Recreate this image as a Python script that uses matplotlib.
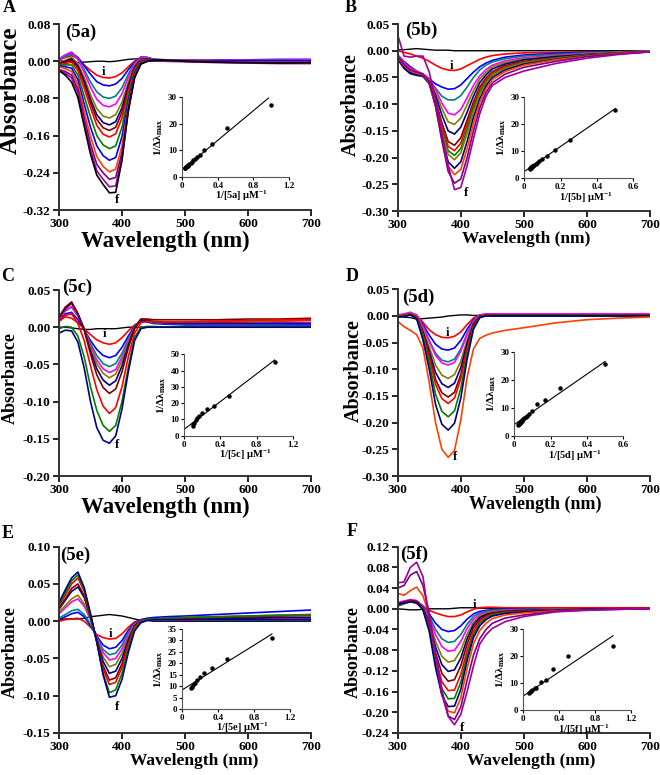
import matplotlib
matplotlib.use("Agg")
import matplotlib.pyplot as plt

plt.rcParams["font.family"] = ["Liberation Serif", "DejaVu Serif"]
plt.rcParams["font.weight"] = "bold"
plt.rcParams["axes.unicode_minus"] = False
plt.rcParams["mathtext.fontset"] = "custom"
plt.rcParams["mathtext.rm"] = "Liberation Serif:bold"
plt.rcParams["mathtext.bf"] = "Liberation Serif:bold"
plt.rcParams["mathtext.it"] = "Liberation Serif:bold:italic"

# wavelength grid (nm) shared by all spectra
wl = [300, 310, 320, 330, 340, 350, 360, 370, 380, 390, 400, 410, 420, 430, 440, 450, 470, 500, 550, 600, 650, 700]

# absorbance values in units of 0.001 (first row = i, last = f)
spec_5a = [
    [3, 8, 12, 6, -8, -20, -30, -35, -36, -33, -25, -12, 0, 8, 8, 4, 2, 2, 2, 2, 2, 3],
    [5, 12, 18, 8, -10, -28, -44, -51, -53, -49, -37, -18, -2, 9, 8, 4, 3, 3, 3, 3, 4, 4],
    [3, 10, 16, 4, -18, -45, -66, -77, -80, -75, -57, -28, -4, 8, 8, 4, 3, 3, 2, 2, 3, 3],
    [5, 14, 20, 5, -24, -56, -82, -95, -98, -92, -70, -35, -6, 8, 7, 3, 2, 2, 2, 2, 2, 3],
    [-3, 2, 8, -5, -35, -72, -102, -118, -122, -115, -88, -45, -10, 5, 5, 3, 2, 1, 0, 0, 0, 0],
    [-5, 0, 5, -10, -42, -82, -115, -132, -137, -130, -100, -52, -13, 4, 5, 3, 2, 1, 0, 0, -1, -1],
    [-5, -2, 2, -14, -48, -90, -125, -143, -149, -142, -110, -58, -15, 3, 4, 2, 1, 0, -1, -2, -2, -2],
    [-8, -5, -2, -20, -58, -100, -138, -157, -163, -156, -122, -65, -18, 2, 4, 2, 1, 0, -1, -1, -2, -2],
    [-8, -8, -8, -30, -75, -120, -160, -180, -188, -182, -142, -75, -22, 0, 3, 2, 1, 0, -1, -1, -2, -2],
    [-10, -12, -15, -40, -92, -142, -182, -203, -213, -207, -162, -86, -26, -2, 2, 2, 1, 0, 0, 1, 1, 1],
    [-12, -16, -22, -50, -108, -162, -205, -226, -238, -232, -182, -96, -30, -4, 1, 1, 0, 0, -1, -2, -2, -2],
    [-18, -22, -30, -60, -122, -178, -222, -240, -254, -250, -196, -103, -33, -5, 0, 1, 0, 0, -2, -3, -3, -3],
    [-20, -26, -36, -68, -132, -190, -236, -254, -270, -268, -206, -108, -35, -6, 0, 1, 0, -1, -3, -4, -5, -5],
    [-20, -30, -45, -78, -140, -200, -245, -265, -283, -282, -213, -106, -35, -6, 0, 2, 2, 0, -2, -3, -4, -3],
]
blank_5a = [0, 1, -1, -3, -2, -1, 0, 0, -1, 0, 2, 4, 5, 5, 4, 3, 2, 1, 0, -1, -1, -1]
colors_5a = ["#ff0000", "#0000ff", "#008080", "#ff00ff", "#808000", "#000080", "#800000",
             "#ff0000", "#008000", "#0000ff", "#ff4000", "#800080", "#a000a0", "#000000"]

spec_5b = [
    [0, -3, -6, -10, -14, -20, -27, -33, -36, -37, -34, -28, -22, -16, -12, -9, -6, -4, -3, -2, -2, -1],
    [-8, -20, -30, -38, -45, -53, -62, -68, -72, -71, -64, -52, -40, -30, -23, -18, -12, -8, -5, -3, -2, -1],
    [-10, -24, -34, -40, -45, -55, -70, -85, -92, -92, -84, -68, -50, -36, -27, -21, -15, -10, -7, -4, -2, -1],
    [-8, -22, -33, -38, -43, -52, -72, -98, -117, -120, -110, -88, -65, -47, -35, -27, -19, -13, -9, -5, -3, -1],
    [-10, -25, -35, -40, -45, -55, -78, -108, -133, -138, -126, -101, -75, -53, -40, -30, -22, -15, -10, -6, -3, -1],
    [-14, -30, -40, -44, -47, -58, -84, -120, -150, -156, -143, -115, -85, -60, -45, -34, -25, -17, -11, -7, -4, -2],
    [-12, -28, -38, -42, -46, -60, -92, -135, -170, -177, -163, -130, -96, -68, -51, -39, -28, -20, -13, -8, -4, -2],
    [-12, -27, -37, -41, -45, -60, -95, -142, -179, -187, -173, -138, -102, -72, -54, -41, -30, -21, -14, -8, -4, -2],
    [-12, -27, -37, -41, -45, -60, -98, -148, -187, -196, -183, -147, -108, -77, -58, -44, -32, -22, -14, -8, -4, -2],
    [-12, -27, -37, -41, -45, -60, -100, -152, -194, -204, -191, -155, -114, -82, -61, -46, -33, -23, -15, -9, -5, -2],
    [-16, -33, -43, -46, -48, -62, -104, -162, -208, -220, -208, -170, -125, -90, -66, -50, -36, -25, -16, -9, -5, -2],
    [-12, -28, -38, -42, -45, -60, -104, -166, -216, -232, -222, -183, -136, -97, -71, -54, -39, -27, -17, -10, -5, -2],
    [-10, -26, -36, -40, -44, -58, -102, -168, -226, -248, -240, -200, -150, -107, -78, -60, -44, -31, -20, -11, -6, -2],
    [30, -10, -12, -10, -10, -40, -92, -154, -215, -260, -256, -215, -165, -118, -85, -65, -50, -38, -24, -14, -7, -2],
]
blank_5b = [2, 2, 3, 4, 3, 2, 1, 1, 1, 0, 0, 0, 0, 0, 0, 0, 0, 0, 0, 0, 0, 0]
colors_5b = ["#ff0000", "#0000ff", "#008080", "#ff00ff", "#808000", "#000080", "#800000",
             "#ff0000", "#008000", "#808000", "#000080", "#ff4000", "#800080", "#a000a0"]

spec_5c = [
    [8, 14, 12, 6, -2, -10, -17, -21, -23, -21, -14, -5, 3, 8, 8, 6, 5, 5, 6, 7, 8, 9],
    [10, 18, 20, 10, -3, -18, -30, -38, -41, -38, -27, -12, 2, 8, 7, 5, 4, 3, 3, 3, 3, 3],
    [12, 22, 27, 15, -2, -22, -38, -49, -53, -49, -35, -16, 1, 9, 8, 6, 5, 4, 4, 4, 4, 5],
    [12, 22, 28, 16, -2, -25, -44, -56, -61, -57, -40, -18, 0, 10, 9, 7, 6, 5, 5, 5, 6, 6],
    [13, 25, 32, 18, -2, -28, -49, -62, -68, -63, -45, -20, 0, 11, 10, 8, 7, 7, 8, 8, 9, 10],
    [13, 25, 33, 18, -3, -32, -56, -71, -78, -72, -52, -24, -1, 10, 9, 7, 6, 5, 5, 5, 5, 5],
    [14, 27, 34, 18, -4, -36, -64, -81, -89, -83, -60, -28, -2, 11, 11, 10, 10, 10, 10, 11, 11, 12],
    [8, 16, 18, 5, -18, -52, -84, -106, -116, -108, -80, -40, -8, 6, 8, 7, 7, 7, 8, 9, 10, 10],
    [-2, 1, 0, -12, -40, -80, -112, -132, -140, -132, -100, -54, -14, 0, 1, 1, 0, 0, 0, 0, 0, 0],
    [-8, -4, -5, -20, -55, -100, -135, -152, -156, -146, -110, -60, -18, -2, 0, 0, 0, 0, 0, 0, 0, 0],
]
blank_5c = [0, 0, -1, -2, -3, -3, -2, -2, -2, -2, -1, 0, 0, 0, 0, 0, 0, 0, 0, 0, 0, 0]
colors_5c = ["#ff0000", "#0000ff", "#008080", "#ff00ff", "#808000", "#000080", "#800000",
             "#ff0000", "#008000", "#000080"]

spec_5d = [
    [0, 2, 4, 1, -12, -26, -35, -40, -41, -38, -30, -16, -4, 2, 3, 3, 3, 3, 3, 3, 3, 3],
    [0, 2, 4, 0, -16, -36, -53, -62, -64, -60, -46, -25, -7, 1, 2, 2, 2, 2, 2, 2, 2, 2],
    [0, 2, 5, 0, -20, -46, -70, -83, -86, -81, -62, -33, -9, 1, 2, 2, 2, 2, 2, 2, 2, 2],
    [2, 4, 7, 2, -20, -48, -74, -88, -92, -87, -66, -35, -10, 2, 4, 4, 4, 4, 4, 4, 4, 4],
    [0, 2, 5, -1, -26, -58, -92, -111, -117, -110, -85, -45, -13, 0, 2, 2, 2, 2, 2, 2, 2, 2],
    [-2, 0, 3, -2, -30, -66, -106, -127, -134, -126, -97, -51, -15, -1, 1, 1, 1, 1, 1, 1, 1, 1],
    [0, 1, 4, -2, -33, -73, -119, -144, -152, -143, -110, -58, -17, -1, 2, 2, 2, 2, 2, 2, 2, 2],
    [0, 1, 4, -2, -35, -78, -128, -155, -164, -154, -118, -62, -19, -2, 1, 1, 1, 1, 1, 1, 1, 1],
    [-2, 0, 3, -4, -40, -88, -147, -179, -189, -178, -136, -72, -22, -3, 1, 1, 1, 1, 1, 1, 1, 1],
    [-2, -1, 2, -5, -45, -100, -166, -203, -214, -201, -154, -81, -25, -3, 0, 0, 0, 0, 0, 0, 0, 0],
    [-10, -20, -27, -35, -60, -125, -200, -250, -265, -252, -195, -115, -62, -42, -36, -32, -27, -22, -13, -7, -4, -2],
]
blank_5d = [0, -2, -3, -6, -5, -4, -3, -2, 0, 1, 2, 2, 1, 1, 1, 0, 0, 0, 0, 0, 0, 0]
colors_5d = ["#ff0000", "#0000ff", "#008080", "#ff00ff", "#808000", "#000080", "#800000",
             "#ff0000", "#008000", "#000080", "#ff4000"]

spec_5e = [
    [0, 2, 3, 4, 0, -8, -18, -22, -24, -23, -17, -8, -1, 2, 3, 3, 3, 3, 3, 4, 4, 5],
    [2, 6, 10, 12, 6, -6, -20, -32, -37, -35, -26, -12, -2, 2, 4, 5, 6, 7, 9, 11, 13, 15],
    [4, 9, 14, 16, 9, -4, -22, -38, -45, -43, -32, -15, -3, 1, 2, 2, 2, 2, 2, 2, 2, 2],
    [10, 18, 26, 30, 20, 2, -22, -42, -52, -50, -37, -18, -4, 1, 2, 2, 2, 2, 3, 3, 4, 4],
    [12, 21, 30, 35, 23, 3, -24, -48, -61, -58, -43, -21, -5, 1, 2, 2, 3, 3, 4, 4, 5, 5],
    [16, 28, 40, 46, 32, 6, -25, -54, -70, -67, -50, -25, -6, 1, 2, 3, 3, 3, 4, 4, 5, 5],
    [18, 30, 44, 50, 34, 6, -27, -60, -79, -76, -57, -29, -7, 0, 2, 3, 4, 4, 5, 6, 7, 8],
    [20, 35, 50, 58, 40, 8, -28, -64, -85, -82, -62, -32, -8, 0, 2, 3, 4, 5, 6, 7, 8, 9],
    [22, 38, 54, 62, 43, 9, -28, -70, -96, -92, -70, -37, -10, -1, 2, 3, 4, 5, 6, 7, 8, 8],
    [25, 42, 58, 66, 45, 10, -28, -72, -102, -100, -78, -42, -13, -2, 1, 2, 2, 2, 2, 2, 2, 2],
]
blank_5e = [2, 3, 3, 3, 4, 6, 7, 8, 9, 8, 7, 5, 3, 1, 1, 0, 0, 0, 0, 0, 0, 0]
colors_5e = ["#ff0000", "#0000ff", "#008080", "#ff00ff", "#808000", "#000080", "#800000",
             "#ff0000", "#008000", "#000080"]

spec_5f = [
    [5, 10, 14, 10, 4, -3, -8, -12, -15, -15, -12, -6, -1, 2, 3, 3, 2, 2, 2, 2, 2, 2],
    [10, 14, 16, 14, 6, -10, -28, -40, -44, -42, -33, -20, -10, -5, -3, -2, -1, -1, 0, 0, 0, 0],
    [10, 14, 16, 14, 5, -14, -40, -58, -65, -63, -50, -30, -15, -8, -5, -3, -2, -1, -1, 0, 0, 0],
    [12, 15, 18, 16, 5, -18, -50, -73, -82, -80, -63, -38, -20, -11, -7, -5, -3, -2, -1, 0, 0, 0],
    [10, 13, 16, 14, 3, -24, -63, -92, -103, -100, -80, -49, -26, -14, -9, -6, -4, -3, -1, -1, 0, 0],
    [10, 13, 16, 14, 2, -28, -74, -108, -121, -118, -95, -58, -31, -17, -11, -8, -5, -3, -2, -1, 0, 0],
    [8, 12, 15, 13, 1, -32, -85, -125, -140, -137, -110, -68, -37, -21, -13, -9, -6, -4, -2, -1, 0, 0],
    [8, 12, 15, 13, 0, -36, -96, -141, -158, -157, -127, -80, -44, -25, -16, -11, -7, -5, -2, -1, 0, 0],
    [6, 10, 13, 12, -1, -40, -105, -154, -174, -173, -142, -90, -50, -29, -18, -12, -8, -6, -3, -1, 0, 0],
    [8, 11, 14, 12, -2, -44, -114, -167, -189, -188, -156, -100, -56, -33, -21, -14, -9, -6, -3, -1, 0, 0],
    [30, 26, 35, 42, 25, -12, -90, -163, -198, -201, -172, -115, -68, -42, -28, -19, -12, -8, -4, -2, -1, 0],
    [40, 45, 65, 72, 45, -8, -90, -165, -207, -214, -190, -138, -90, -58, -40, -28, -18, -12, -5, -2, -1, 0],
    [50, 52, 80, 90, 62, -21, -85, -156, -208, -224, -204, -160, -111, -68, -50, -38, -25, -15, -6, -3, -1, 0],
]
blank_5f = [0, -1, -2, -2, -1, 0, 0, 0, 0, 1, 2, 2, 2, 1, 1, 0, 0, 0, 0, 0, 0, 0]
colors_5f = ["#ff0000", "#0000ff", "#008080", "#ff00ff", "#808000", "#000080", "#800000",
             "#ff0000", "#008000", "#000080", "#ff4000", "#800080", "#a000a0"]

# double-reciprocal insets: 1/[L] vs 1/dLambda, plus the fitted line ends
inv_5a = [1.0, 0.5, 0.333, 0.25, 0.2, 0.167, 0.143, 0.125, 0.111, 0.1, 0.083, 0.071, 0.0625, 0.056, 0.05, 0.045, 0.042, 0.038, 0.036, 0.033]
dl_5a = [27, 18.5, 12.5, 10.3, 8.3, 7.5, 6.8, 6.2, 5.8, 5.4, 5.0, 4.6, 4.3, 4.1, 3.9, 3.7, 3.6, 3.5, 3.4, 3.3]
fit_5a = ([0, 0.97], [2.6, 29.6])

inv_5b = [0.5, 0.25, 0.167, 0.125, 0.1, 0.083, 0.071, 0.0625, 0.056, 0.05, 0.045, 0.042, 0.038, 0.036, 0.033, 0.031]
dl_5b = [25, 14, 10.5, 8.2, 7.2, 6.3, 5.8, 5.4, 5.0, 4.6, 4.4, 4.2, 4.0, 3.9, 3.7, 3.6]
fit_5b = ([0, 0.5], [2.5, 25.6])

inv_5c = [1.0, 0.5, 0.333, 0.25, 0.2, 0.167, 0.143, 0.125, 0.111, 0.1, 0.091]
dl_5c = [45.5, 24.5, 18.5, 16.3, 14, 12, 11, 9.5, 8, 7, 6.2]
fit_5c = ([0, 1.0], [4, 46.5])

inv_5d = [0.5, 0.25, 0.167, 0.125, 0.1, 0.083, 0.071, 0.0625, 0.056, 0.05, 0.045, 0.042, 0.038, 0.036, 0.033, 0.031, 0.029, 0.027, 0.025, 0.02]
dl_5d = [25.5, 17, 12.7, 11.5, 9, 7.8, 7.2, 6.8, 6.4, 6.0, 5.6, 5.4, 5.2, 5.0, 4.8, 4.6, 4.5, 4.3, 4.2, 3.7]
fit_5d = ([0, 0.5], [4, 26.5])

inv_5e = [1.0, 0.5, 0.333, 0.25, 0.2, 0.167, 0.143, 0.125, 0.111, 0.1]
dl_5e = [31.2, 21.7, 18, 15.8, 14, 12.6, 11.3, 10.6, 9.8, 9.2]
fit_5e = ([0, 1.0], [8.2, 32.8])

inv_5f = [1.0, 0.5, 0.333, 0.25, 0.2, 0.143, 0.125, 0.1, 0.083, 0.071, 0.0625]
dl_5f = [23.8, 20, 15, 11.2, 10.2, 8.3, 8.0, 7.4, 7.0, 6.7, 6.4]
fit_5f = ([0, 1.0], [5.2, 27.5])

panels = [
    dict(letter="A", tag="5a", spec=spec_5a, blank=blank_5a, colors=colors_5a,
         ylim=(-0.32, 0.08), ystep=0.08, rect=[0.0894, 0.729, 0.3818, 0.240],
         inset=[0.2758, 0.7716, 0.1621, 0.1032], ixlim=1.2, ixstep=0.4, iylim=30, iystep=10,
         inv=inv_5a, dl=dl_5a, fit=fit_5a, i_pos=(370, -0.023), f_pos=(392, -0.298),
         ylab=(-0.147, 0.645, 18), xlab=(0.42, -0.112, 16.5), let_xy=(9, 8), tag_xy=(65, 24)),
    dict(letter="B", tag="5b", spec=spec_5b, blank=blank_5b, colors=colors_5b,
         ylim=(-0.30, 0.05), ystep=0.05, rect=[0.6026, 0.7277, 0.3823, 0.2413],
         inset=[0.7944, 0.7699, 0.1652, 0.1053], ixlim=0.6, ixstep=0.2, iylim=30, iystep=10,
         inv=inv_5b, dl=dl_5b, fit=fit_5b, i_pos=(385.6, -0.028), f_pos=(409, -0.266),
         ylab=(-0.145, 0.567, 14.5), xlab=(0.51, -0.108, 12.5), let_xy=(351, 8), tag_xy=(405, 22)),
    dict(letter="C", tag="5c", spec=spec_5c, blank=blank_5c, colors=colors_5c,
         ylim=(-0.20, 0.05), ystep=0.05, rect=[0.0894, 0.3858, 0.3818, 0.240],
         inset=[0.2793, 0.4378, 0.1642, 0.105], ixlim=1.2, ixstep=0.4, iylim=50, iystep=10,
         inv=inv_5c, dl=dl_5c, fit=fit_5c, i_pos=(371.4, -0.0095), f_pos=(391.6, -0.158),
         ylab=(-0.159, 0.524, 13), xlab=(0.42, -0.112, 16.5), let_xy=(8, 276), tag_xy=(62, 279)),
    dict(letter="D", tag="5d", spec=spec_5d, blank=blank_5d, colors=colors_5d,
         ylim=(-0.30, 0.05), ystep=0.05, rect=[0.6026, 0.3858, 0.3823, 0.2409],
         inset=[0.7792, 0.4378, 0.1652, 0.1084], ixlim=0.6, ixstep=0.2, iylim=30, iystep=10,
         inv=inv_5d, dl=dl_5d, fit=fit_5d, i_pos=(378.6, -0.031), f_pos=(390.8, -0.264),
         ylab=(-0.134, 0.565, 14.5), xlab=(0.546, -0.108, 13), let_xy=(352, 276), tag_xy=(402, 289)),
    dict(letter="E", tag="5e", spec=spec_5e, blank=blank_5e, colors=colors_5e,
         ylim=(-0.15, 0.10), ystep=0.05, rect=[0.0894, 0.0542, 0.3818, 0.2404],
         inset=[0.2753, 0.0852, 0.1641, 0.1032], ixlim=1.2, ixstep=0.4, iylim=35, iystep=5,
         inv=inv_5e, dl=dl_5e, fit=fit_5e, i_pos=(381, -0.017), f_pos=(391.6, -0.115),
         ylab=(-0.159, 0.437, 13), xlab=(0.536, -0.108, 12.5), let_xy=(8, 533), tag_xy=(60, 547)),
    dict(letter="F", tag="5f", spec=spec_5f, blank=blank_5f, colors=colors_5f,
         ylim=(-0.24, 0.12), ystep=0.04, rect=[0.6026, 0.0542, 0.3823, 0.2404],
         inset=[0.7929, 0.0839, 0.1632, 0.1045], ixlim=1.2, ixstep=0.4, iylim=30, iystep=10,
         inv=inv_5f, dl=dl_5f, fit=fit_5f, i_pos=(421.4, 0.007), f_pos=(401.5, -0.231),
         ylab=(-0.142, 0.433, 13), xlab=(0.528, -0.108, 12.5), let_xy=(352, 531), tag_xy=(400, 546)),
]


def frange(a, b, step):
    n = int(round((b - a) / step))
    return [a + k * step for k in range(n + 1)]


fig = plt.figure(figsize=(6.6, 7.75), dpi=100)

for p in panels:
    ax = fig.add_axes(p["rect"])
    ax.plot(wl, [v / 1000 for v in p["blank"]], color="black", lw=1.0)
    for vals, col in zip(p["spec"], p["colors"]):
        ax.plot(wl, [v / 1000 for v in vals], color=col, lw=1.2)

    ax.set_xlim(300, 700)
    ax.set_ylim(*p["ylim"])
    ax.set_xticks([300, 400, 500, 600, 700])
    ax.set_yticks(frange(p["ylim"][0], p["ylim"][1], p["ystep"]))
    ax.set_yticklabels(["%.2f" % t if abs(t) > 1e-9 else "0.00" for t in ax.get_yticks()])
    for side in ("top", "right"):
        ax.spines[side].set_visible(False)
    for side in ("left", "bottom"):
        ax.spines[side].set_linewidth(1.4)
        ax.spines[side].set_color("#333333")
    ax.tick_params(direction="out", length=4, width=1.2, labelsize=9.5, pad=2)

    yx, yy, ys = p["ylab"]
    ax.set_ylabel("Absorbance", fontsize=ys, fontweight="bold")
    ax.yaxis.set_label_coords(yx, yy)
    xx, xy, xs = p["xlab"]
    ax.set_xlabel("Wavelength (nm)", fontsize=xs, fontweight="bold")
    ax.xaxis.set_label_coords(xx, xy)

    tx, ty = p["tag_xy"]
    fig.text(tx / 660, 1 - ty / 775, "(%s)" % p["tag"], fontsize=13.5,
             fontweight="bold", va="top", ha="left")
    ax.text(*p["i_pos"], "i", fontsize=9, fontweight="bold", ha="center", va="center")
    ax.text(*p["f_pos"], "f", fontsize=9, fontweight="bold", ha="center", va="center")

    lx, ly = p["let_xy"]
    fig.text(lx / 660, 1 - ly / 775, p["letter"], fontsize=13, fontweight="bold",
             ha="center", va="center")

    # inset
    ins = fig.add_axes(p["inset"])
    ins.plot(p["inv"], p["dl"], "o", color="black", ms=2.2)
    ins.plot(p["fit"][0], p["fit"][1], color="black", lw=0.8)
    ins.set_xlim(0, p["ixlim"])
    ins.set_ylim(0, p["iylim"])
    ins.set_xticks(frange(0, p["ixlim"], p["ixstep"]))
    ins.set_yticks(frange(0, p["iylim"], p["iystep"]))
    ins.set_xticklabels(["0" if t == 0 else ("%.1f" % t) for t in ins.get_xticks()])
    ins.set_yticklabels(["%d" % round(t) for t in ins.get_yticks()])
    for side in ("top", "right"):
        ins.spines[side].set_visible(False)
    for side in ("left", "bottom"):
        ins.spines[side].set_linewidth(0.8)
        ins.spines[side].set_color("#555555")
    ins.patch.set_alpha(0)
    ins.tick_params(direction="out", length=2, width=0.8, labelsize=6.5, pad=1.5)
    ins.set_xlabel("1/[%s] μM$^{-1}$" % p["tag"], fontsize=7.5, fontweight="bold")
    ins.xaxis.set_label_coords(0.56, -0.15)
    ins.set_ylabel("1/Δλ$_{\\mathrm{max}}$", fontsize=8, fontweight="bold", labelpad=2)

fig.savefig("out.png", dpi=100)
